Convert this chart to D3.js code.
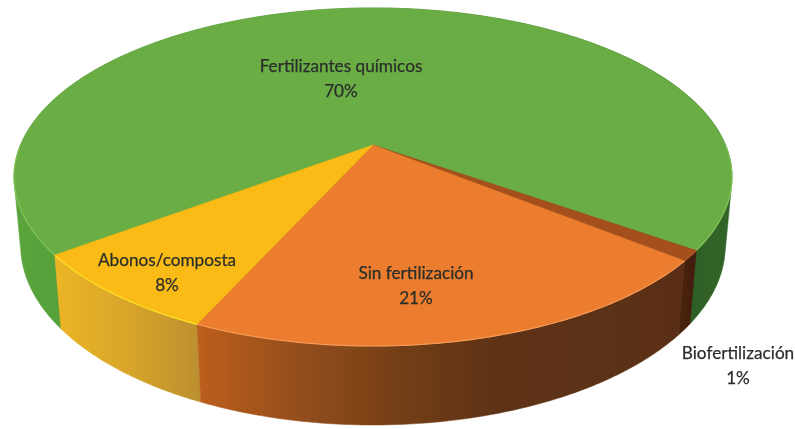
<!DOCTYPE html>
<html>
<head>
<meta charset="utf-8">
<script src="https://cdn.jsdelivr.net/npm/d3@7"></script>
<style>
  html, body { margin: 0; padding: 0; background: #fff; }
  text { font-family: Lato, "Open Sans", sans-serif; font-size: 17.2px; fill: #2b2f2c; stroke: #2b2f2c; stroke-width: 0.25px; text-anchor: middle; }
</style>
</head>
<body>
<div id="chart"></div>
<script>
// values
const categories = ["Fertilizantes químicos", "Biofertilización", "Sin fertilización", "Abonos/composta"];
const shares = [70, 1, 21, 8];

// styles, same order as the categories
const topColors = ["#6aad45", "#a5501f", "#ec7c2e", "#fbbb14"];
const edgeColors = ["#84c45a", "#b0582a", "#f59a58", "#ffe02a"];
const sideStops = [
    [[10, "#5ba63c"], [60, "#55a039"], [660, "#2a5a20"], [735, "#33662a"]],
    [[675, "#4e2410"], [695, "#421d0c"]],
    [[200, "#bb5e1e"], [300, "#944e1d"], [400, "#733e16"], [500, "#5e3212"], [680, "#5a2f12"]],
    [[55, "#ecb526"], [130, "#d8a52a"], [205, "#b98e30"]]
];
const labelSpots = [[341, 67], [738, 354], [416, 274], [167, 261]];

const svgWidth = 795;
const svgHeight = 429;

// the pie is a tilted disc seen in perspective
const view = {cx: 373, cy: 145, rx: 352.5, rxBase: 351, ry: 163, tilt: 0.189, depth: 68, shrink: 0.014};

function project(angle, bottom) {
    const u = Math.sin(angle);
    const v = -Math.cos(angle);
    const w = 1 - view.tilt * v + (bottom ? view.shrink : 0);
    return [
        view.cx + (bottom ? view.rxBase : view.rx) * u / w,
        view.cy + (view.ry * v + (bottom ? view.depth : 0)) / w
    ];
}

function arcPoints(a0, a1, bottom) {
    const steps = Math.max(2, Math.ceil(Math.abs(a1 - a0) / 0.01));
    return d3.range(steps + 1).map(i => project(a0 + (a1 - a0) * i / steps, bottom));
}

const pie = d3.pie()
    .sort(null)
    .startAngle(-126.8 * Math.PI / 180)
    .endAngle((360 - 126.8) * Math.PI / 180);

const slices = pie(shares);
const line = d3.line();

const svg = d3.select("#chart")
    .append("svg")
    .attr("width", svgWidth)
    .attr("height", svgHeight)
    .style("display", "block");

const defs = svg.append("defs");

defs.append("filter")
    .attr("id", "soft")
    .attr("x", "-5%").attr("y", "-5%").attr("width", "110%").attr("height", "110%")
    .append("feGaussianBlur")
    .attr("stdDeviation", 0.6);

sideStops.forEach(function(stops, i) {
    const grad = defs.append("linearGradient")
        .attr("id", "side" + i)
        .attr("gradientUnits", "userSpaceOnUse")
        .attr("x1", stops[0][0]).attr("y1", 0)
        .attr("x2", stops[stops.length - 1][0]).attr("y2", 0);
    const offset = d3.scaleLinear()
        .domain([stops[0][0], stops[stops.length - 1][0]])
        .range([0, 1]);
    grad.selectAll("stop")
        .data(stops)
        .enter()
        .append("stop")
        .attr("offset", d => offset(d[0]))
        .attr("stop-color", d => d[1]);
});

const chart = svg.append("g").attr("filter", "url(#soft)");

// walls first, back to front: green, brown, yellow, orange
[0, 1, 3, 2].forEach(function(i) {
    const d = slices[i];
    let pts = arcPoints(d.startAngle, d.endAngle, false)
        .concat(arcPoints(d.endAngle, d.startAngle, true));
    // a slice going round the back needs the hull, or the silhouette gets a notch
    if (d.endAngle - d.startAngle > Math.PI) pts = d3.polygonHull(pts);
    chart.append("path")
        .attr("d", line(pts) + "Z")
        .attr("fill", `url(#side${i})`)
        .attr("stroke", `url(#side${i})`)
        .attr("stroke-width", 0.5);
});

// top faces
slices.forEach(function(d, i) {
    const pts = [[view.cx, view.cy]].concat(arcPoints(d.startAngle, d.endAngle, false));
    chart.append("path")
        .attr("d", line(pts) + "Z")
        .attr("fill", topColors[i])
        .attr("stroke", topColors[i])
        .attr("stroke-width", 0.5);
});

// lighter rim where the top meets the front wall
slices.forEach(function(d, i) {
    // only the part of the rim that faces the viewer
    const a0 = Math.max(d.startAngle, Math.PI / 2);
    const a1 = Math.min(d.endAngle, 3 * Math.PI / 2);
    const parts = [];
    if (a1 > a0) parts.push([a0, a1]);
    if (d.startAngle < -Math.PI / 2) parts.push([d.startAngle, -Math.PI / 2]);
    parts.forEach(function(p) {
        chart.append("path")
            .attr("d", line(arcPoints(p[0], p[1], false)))
            .attr("fill", "none")
            .attr("stroke", edgeColors[i])
            .attr("stroke-width", 1.2);
    });
});

// labels
const labels = chart.selectAll("g.label")
    .data(slices)
    .enter()
    .append("g")
    .attr("class", "label")
    .attr("transform", (d, i) => `translate(${labelSpots[i][0]}, ${labelSpots[i][1]})`);

labels.append("text")
    .attr("y", 5)
    .text((d, i) => categories[i]);

labels.append("text")
    .attr("y", 30)
    .text(d => d.data + "%");
</script>
</body>
</html>
